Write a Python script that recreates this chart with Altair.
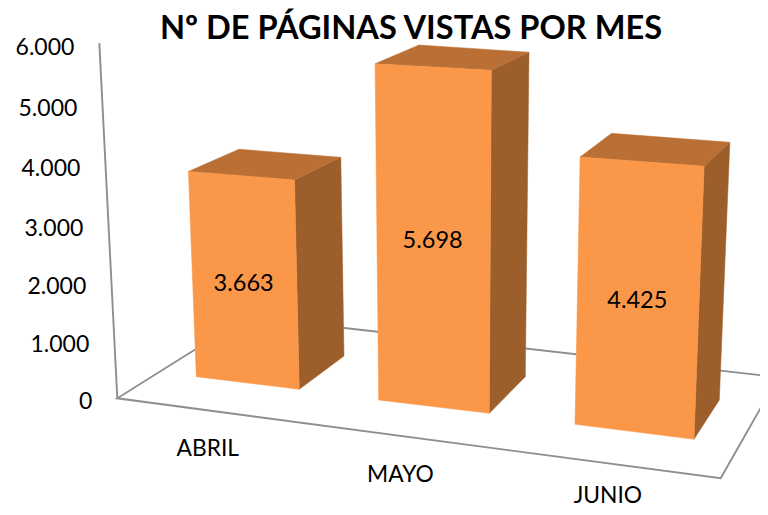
import altair as alt
import pandas as pd

# ---------- chart values ----------
categories = ["ABRIL", "MAYO", "JUNIO"]
values = [3663, 5698, 4425]
value_labels = ["3.663", "5.698", "4.425"]
ticks = [0, 1000, 2000, 3000, 4000, 5000, 6000]
tick_labels = ["0", "1.000", "2.000", "3.000", "4.000", "5.000", "6.000"]
title_text = "Nº DE PÁGINAS VISTAS POR MES"

# ---------- perspective layout (page pixels) ----------
W, H, M = 768, 515, 8
FONT = "Lato"
FRONT, TOP, SIDE, GRID = "#FA9748", "#BA7035", "#9C5F2B", "#8E8E8E"
# floor footprint of each bar: front-left, front-right, back-right, back-left
footprints = [
    [(196.3, 376.7), (299.3, 389.3), (344.0, 356.0), (245.0, 344.0)],
    [(378.7, 400.0), (489.3, 413.3), (525.3, 376.7), (420.4, 362.0)],
    [(575.0, 424.3), (694.0, 439.3), (719.3, 400.0), (605.6, 385.5)],
]
height_trim = [0.995, 1.011, 0.998]
ORIGIN = (117.3, 398.3)
FLOOR_FRONT = (720.7, 478.3)
FLOOR_BACK = (247.0, 317.0)
FLOOR_RIGHT_EDGE = (768.0, 395.0)
FLOOR_BACK_EDGE = (768.0, 376.0)
AXIS_PX_PER_UNIT = 0.0592
CLIP_BOTTOM = 496.0
TITLE_X, TITLE_Y = 411, 28.5


def raise_point(p, h, gain=None, trim=1.0):
    """Lift a floor point by a value h; scale and lean depend on floor position."""
    s = gain if gain is not None else (0.0545 + (p[1] - 356) * 8.8e-5) * trim
    dy = h * s
    return (p[0] + dy * (p[0] - 450) * 1.52e-4, p[1] - dy)


def feature(coords, color, closed=True):
    if closed:
        geom = {"type": "Polygon", "coordinates": [[list(c) for c in coords + coords[:1]]]}
    else:
        geom = {"type": "LineString", "coordinates": [list(c) for c in coords]}
    return {"type": "Feature", "geometry": geom, "properties": {"color": color}}


faces, bar_rows, cat_rows = [], [], []
for name, val, lab, trim, (fl, fr, br, bl) in zip(categories, values, value_labels, height_trim, footprints):
    tfl, tfr, tbr, tbl = (raise_point(p, val, trim=trim) for p in (fl, fr, br, bl))
    faces.append(feature([tfr, tbr, br, fr], SIDE))
    faces.append(feature([tfl, tbl, tbr, tfr], TOP))
    faces.append(feature([tfl, tfr, fr, fl], FRONT))
    cx = (tfl[0] + tfr[0] + fr[0] + fl[0]) / 4
    cy = (tfl[1] + tfr[1] + fr[1] + fl[1]) / 4
    bar_rows.append({"px": cx - M - 1, "py": cy + 4.5 - M, "t": lab})
    mx, my = (fl[0] + fr[0]) / 2, (fl[1] + fr[1]) / 2
    cat_rows.append({"px": mx - 40 + 0.0346 * (mx - 248) - M,
                     "py": min(my + 66 + 0.1 * (my - 383), CLIP_BOTTOM) - M, "t": name})

wall_top = raise_point(ORIGIN, ticks[-1], AXIS_PX_PER_UNIT)
lines = [
    feature([wall_top, ORIGIN], GRID, closed=False),
    feature([FLOOR_BACK, ORIGIN, FLOOR_FRONT, FLOOR_RIGHT_EDGE], GRID, closed=False),
    feature([FLOOR_BACK, FLOOR_BACK_EDGE], GRID, closed=False),
]
tick_rows = []
for v, lab in zip(ticks, tick_labels):
    x, _ = raise_point(ORIGIN, v, AXIS_PX_PER_UNIT)
    # tick labels sit on a slightly foreshortened copy of the wall
    y = ORIGIN[1] + 3.5 - v * (0.0565 + v * 4e-7)
    tick_rows.append({"px": x - 25 - M, "py": y - M, "t": lab})

proj = dict(type="identity", scale=1, translate=[-M, -M])
xpx = alt.X("px:Q", scale=None, axis=None)
ypx = alt.Y("py:Q", scale=None, axis=None)


def geo(features):
    return alt.Data(values={"type": "FeatureCollection", "features": features},
                    format=alt.DataFormat(type="json", property="features"))


line_layer = (
    alt.Chart(geo(lines))
    .mark_geoshape(filled=False, stroke=GRID, strokeWidth=1.9)
    .project(**proj)
)
face_layer = (
    alt.Chart(geo(faces))
    .mark_geoshape(strokeWidth=0.5)
    .encode(
        fill=alt.Fill("properties.color:N", scale=None),
        stroke=alt.Stroke("properties.color:N", scale=None),
    )
    .project(**proj)
)


def text_layer(rows, size, align="center", weight="normal"):
    return (
        alt.Chart(pd.DataFrame(rows))
        .mark_text(font=FONT, fontSize=size, align=align, baseline="middle",
                   color="#000000", fontWeight=weight)
        .encode(x=xpx, y=ypx, text="t:N")
    )


chart = alt.layer(
    line_layer,
    face_layer,
    text_layer(tick_rows, 23, align="right"),
    text_layer(bar_rows, 23.5),
    text_layer(cat_rows, 22.8),
    text_layer([{"px": TITLE_X - M, "py": TITLE_Y - M, "t": title_text}], 32.6, weight="bold"),
).properties(
    width=W - 2 * M, height=H - 2 * M, padding=0, autosize=alt.AutoSizeParams(type="none"),
    background="#FFFFFF",
).configure_view(stroke=None)

chart.save("out.html", embed_options={"renderer": "svg", "actions": False})
